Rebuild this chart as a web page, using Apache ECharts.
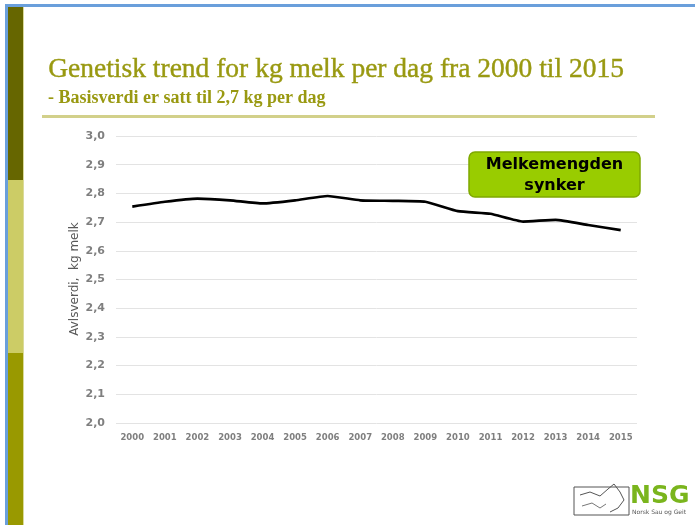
<!DOCTYPE html>
<html>
<head>
<meta charset="utf-8">
<title>Genetisk trend</title>
<script src="https://cdn.jsdelivr.net/npm/echarts@6/dist/echarts.min.js"></script>
<style>
  html, body { margin: 0; padding: 0; background: #fff; }
  #main { width: 695px; height: 525px; }
</style>
</head>
<body>
<div id="main"></div>
<script>
// data
var years = ['2000', '2001', '2002', '2003', '2004', '2005', '2006', '2007',
             '2008', '2009', '2010', '2011', '2012', '2013', '2014', '2015'];
var avlsverdi = [2.754, 2.771, 2.782, 2.776, 2.765, 2.776, 2.791, 2.776,
                 2.774, 2.771, 2.738, 2.729, 2.702, 2.708, 2.690, 2.672];

var chart = echarts.init(document.getElementById('main'));

var option = {
    animation: false,
    backgroundColor: '#ffffff',
    grid: {
        left: 116,
        right: 58,
        top: 136,
        bottom: 102
    },
    xAxis: {
        type: 'category',
        data: years,
        axisLine: { show: false },
        axisTick: { show: false },
        axisLabel: {
            interval: 0,
            margin: 10,
            color: '#7f7f7f',
            fontFamily: 'DejaVu Sans',
            fontWeight: 'bold',
            fontSize: 8.5
        }
    },
    yAxis: {
        type: 'value',
        min: 2,
        max: 3,
        interval: 0.1,
        axisLine: { show: false },
        axisTick: { show: false },
        axisLabel: {
            margin: 11,
            color: '#7f7f7f',
            fontFamily: 'DejaVu Sans',
            fontWeight: 'bold',
            fontSize: 11,
            formatter: function (v) { return v.toFixed(1).replace('.', ','); }
        },
        splitLine: { lineStyle: { color: '#e3e3e3', width: 1 } }
    },
    series: [{
        type: 'line',
        data: avlsverdi,
        symbol: 'none',
        smooth: 0.15,
        lineStyle: { color: '#000000', width: 2.7 }
    }],
    graphic: [
        // slide frame
        { type: 'rect', shape: { x: 5, y: 4, width: 690, height: 3 }, style: { fill: '#6a9fdb' } },
        { type: 'rect', shape: { x: 5, y: 4, width: 3, height: 521 }, style: { fill: '#6a9fdb' } },
        { type: 'rect', shape: { x: 8, y: 7, width: 15, height: 173 }, style: { fill: '#666600' } },
        { type: 'rect', shape: { x: 8, y: 180, width: 15, height: 173 }, style: { fill: '#cccc66' } },
        { type: 'rect', shape: { x: 8, y: 353, width: 15, height: 172 }, style: { fill: '#999900' } },
        { type: 'rect', shape: { x: 23, y: 7, width: 1, height: 518 }, style: { fill: '#dada9a' } },
        // title
        {
            type: 'text', left: 48, top: 56,
            style: {
                text: 'Genetisk trend for kg melk per dag fra 2000 til 2015',
                fill: '#999911',
                font: '27.5px "Liberation Serif"',
                stroke: '#999911',
                lineWidth: 0.4
            }
        },
        {
            type: 'text', left: 48, top: 89,
            style: {
                text: '- Basisverdi er satt til 2,7 kg per dag',
                fill: '#999911',
                font: 'bold 18px "Liberation Serif"'
            }
        },
        { type: 'rect', shape: { x: 42, y: 115, width: 613, height: 3 }, style: { fill: '#d2d08a' } },
        // y axis title
        {
            type: 'text', x: 75, y: 279, rotation: Math.PI / 2,
            style: {
                text: 'Avlsverdi,  kg melk',
                fill: '#595959',
                font: '12px "DejaVu Sans"',
                align: 'center',
                verticalAlign: 'middle'
            }
        },
        // callout
        {
            type: 'rect', z: 100,
            shape: { x: 469, y: 152, width: 171, height: 45, r: 6 },
            style: { fill: '#99cc00', stroke: '#7fa800', lineWidth: 1.5 }
        },
        {
            type: 'text', z: 101, x: 554.5, y: 175,
            style: {
                text: 'Melkemengden\nsynker',
                fill: '#000000',
                font: 'bold 16px "DejaVu Sans"',
                lineHeight: 21,
                align: 'center',
                verticalAlign: 'middle'
            }
        },
        // logo
        {
            type: 'rect',
            shape: { x: 574, y: 487, width: 55, height: 28 },
            style: { fill: 'none', stroke: '#555555', lineWidth: 1 }
        },
        {
            type: 'polyline',
            shape: { points: [[580, 495], [590, 492], [600, 496], [608, 489], [614, 484], [620, 492], [624, 500], [618, 508], [610, 512]] },
            style: { fill: 'none', stroke: '#555555', lineWidth: 1 }
        },
        {
            type: 'polyline',
            shape: { points: [[582, 506], [592, 503], [600, 508], [606, 504]] },
            style: { fill: 'none', stroke: '#777777', lineWidth: 1 }
        },
        {
            type: 'text', left: 630, top: 484,
            style: { text: 'NSG', fill: '#7ab51d', font: 'bold 25px "DejaVu Sans"' }
        },
        {
            type: 'text', left: 632, top: 509,
            style: { text: 'Norsk Sau og Geit', fill: '#555555', font: '6px "DejaVu Sans"' }
        }
    ]
};

chart.setOption(option);
</script>
</body>
</html>
